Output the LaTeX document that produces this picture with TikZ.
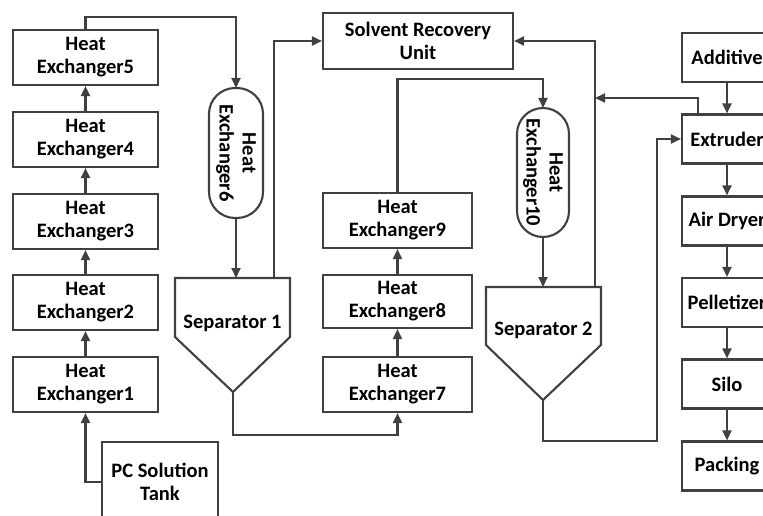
\documentclass[tikz,border=0pt]{standalone}
\usepackage{fontspec}
\setmainfont{Carlito}
\usetikzlibrary{arrows.meta}
\definecolor{ln}{RGB}{64,64,64}
\begin{document}
\begin{tikzpicture}[x=1pt,y=-1pt,
  every node/.style={font=\fontsize{20.5}{23}\selectfont\bfseries, text=black, align=center, inner sep=0pt},
  box/.style={draw=ln, line width=2.1pt, fill=white},
  hx/.style={box, minimum width=145pt, minimum height=55pt},
  hxm/.style={box, minimum width=149pt, minimum height=55pt},
  rbox/.style={box, minimum width=90pt, minimum height=49pt},
  capsule/.style={box, rounded corners=26pt},
  arr/.style={draw=ln, line width=2.1pt, -{Triangle[length=10pt,width=9pt]}}]
\useasboundingbox (0,0) rectangle (763,516);
% left column
\node[hx] (he5) at (85.5,57.5) {Heat\\Exchanger5};
\node[hx] (he4) at (85.5,139.5) {Heat\\Exchanger4};
\node[hx] (he3) at (85.5,221.5) {Heat\\Exchanger3};
\node[hx] (he2) at (85.5,302.5) {Heat\\Exchanger2};
\node[hx] (he1) at (85.5,384.5) {Heat\\Exchanger1};
\node[box, minimum width=116pt, minimum height=80pt] (tank) at (160,482) {PC Solution\\Tank};
% middle column
\node[hxm] (he9) at (397.5,220.5) {Heat\\Exchanger9};
\node[hxm, minimum height=53pt] (he8) at (397.5,301.5) {Heat\\Exchanger8};
\node[hxm] (he7) at (397.5,384.5) {Heat\\Exchanger7};
\node[box, minimum width=190pt, minimum height=56pt] (sru) at (418,41) {Solvent Recovery\\Unit};
% capsules
\draw[capsule] (209,88) rectangle (263,218);
\node[rotate=-90] (he6) at (236,153) {Heat\\Exchanger6};
\coordinate (he6t) at (236,88);
\coordinate (he6b) at (236,218);
\draw[capsule] (517,108) rectangle (569,237);
\node[rotate=-90] (he10) at (543,172.5) {Heat\\Exchanger10};
\coordinate (he10t) at (543,108);
\coordinate (he10b) at (543,237);
% separators
\draw[box, line join=miter] (175,278) -- (290,278) -- (290,337) -- (233,392) -- (175,337) -- cycle;
\node (sep1) at (232.5,323) {Separator 1};
\coordinate (s1in) at (236,278);
\coordinate (s1out) at (274,278);
\coordinate (s1b) at (233,392);
\draw[box, line join=miter] (486,287) -- (601,287) -- (601,345) -- (543,400) -- (486,345) -- cycle;
\node (sep2) at (543.5,330) {Separator 2};
\coordinate (s2in) at (543,287);
\coordinate (s2out) at (595,287);
\coordinate (s2b) at (543,400);
% right column
\node[rbox] (add) at (727,57.5) {Additive};
\node[rbox] (ext) at (727,139) {Extruder};
\node[rbox] (dry) at (727,221) {Air Dryer};
\node[rbox] (pel) at (727,302.5) {Pelletizer};
\node[rbox] (silo) at (727,384) {Silo};
\node[rbox] (pack) at (727,466) {Packing};
\coordinate (exo) at (698,114.5);
\coordinate (j1) at (595,98);
\coordinate (c1) at (657,441);
% connectors
\draw[arr] (tank.west) -| (he1.south);
\draw[arr] (he1.north) -- (he2.south);
\draw[arr] (he2.north) -- (he3.south);
\draw[arr] (he3.north) -- (he4.south);
\draw[arr] (he4.north) -- (he5.south);
\draw[arr] (he5.north) -- ++(0,-12) -| (he6t);
\draw[arr] (he6b) -- (s1in);
\draw[arr] (s1out) |- (sru.west);
\draw[arr] (s1b) -- ++(0,43) -| (he7.south);
\draw[arr] (he7.north) -- (he8.south);
\draw[arr] (he8.north) -- (he9.south);
\draw[arr] (he9.north) -- ++(0,-113) -| (he10t);
\draw[arr] (he10b) -- (s2in);
\draw[arr] (s2out) |- (sru.east);
\draw[arr] (exo) |- (j1);
\draw[arr] (s2b) |- (c1) |- (ext.west);
\draw[arr] (add.south) -- (ext.north);
\draw[arr] (ext.south) -- (dry.north);
\draw[arr] (dry.south) -- (pel.north);
\draw[arr] (pel.south) -- (silo.north);
\draw[arr] (silo.south) -- (pack.north);
\end{tikzpicture}
\end{document}
